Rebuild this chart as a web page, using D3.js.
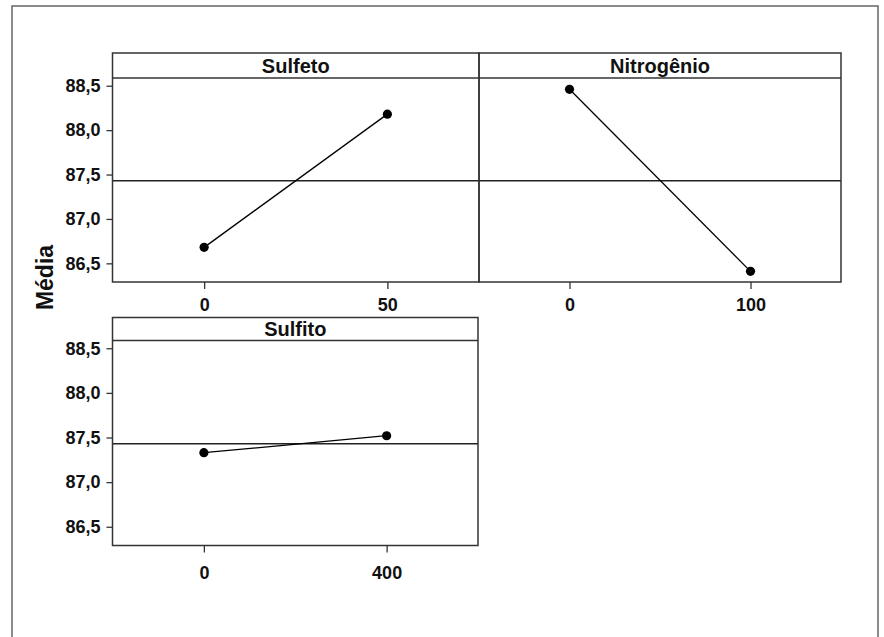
<!DOCTYPE html>
<html>
<head>
<meta charset="utf-8">
<script src="https://cdn.jsdelivr.net/npm/d3@7"></script>
<style>
  body { margin: 0; background: #fff; }
  text { font-family: "Liberation Sans", Arial, sans-serif; font-weight: bold; fill: #111; }
</style>
</head>
<body>
<div id="chart"></div>
<script>
// Data
const factors = ["Sulfeto", "Nitrogênio", "Sulfito"];
const levels = [["0", "50"], ["0", "100"], ["0", "400"]];
const means = [[86.68, 88.18], [88.46, 86.41], [87.33, 87.52]];
const grandMean = 87.43;
const yTicks = [86.5, 87.0, 87.5, 88.0, 88.5];

const width = 884, height = 637;

// panel boxes: x0, x1, strip top, plot top (strip bottom), plot bottom, x-label padding, show y axis
const panels = [
    { x0: 112.5, x1: 479, top: 53, plotTop: 78, bottom: 282, pad: 9, yAxis: true },
    { x0: 479, x1: 841, top: 53, plotTop: 78, bottom: 282, pad: 9, yAxis: false },
    { x0: 112.5, x1: 478, top: 317.5, plotTop: 340.5, bottom: 545.5, pad: 14, yAxis: true }
];
const yDomain = [86.29, 88.587];

const locale = d3.formatLocale({ decimal: ",", thousands: ".", grouping: [3], currency: ["R$", ""] });
const fmt = locale.format(".1f");

const svg = d3.select("#chart")
    .append("svg")
    .attr("width", width)
    .attr("height", height);

// outer frame (runs off the bottom of the picture)
svg.append("rect")
    .attr("x", 12).attr("y", 6)
    .attr("width", 866).attr("height", 700)
    .attr("fill", "none")
    .attr("stroke", "#666")
    .attr("stroke-width", 1.5);

factors.forEach((name, i) => {
    const p = panels[i];
    const g = svg.append("g");

    const x = d3.scalePoint()
        .domain(levels[i])
        .range([p.x0, p.x1])
        .padding(0.5);

    const y = d3.scaleLinear()
        .domain(yDomain)
        .range([p.bottom, p.plotTop]);

    // Y axis (left column only)
    if (p.yAxis) {
        g.append("g")
            .attr("transform", `translate(${p.x0},0)`)
            .call(d3.axisLeft(y).tickValues(yTicks).tickFormat(fmt).tickSize(6).tickPadding(6))
            .call((a) => a.select(".domain").remove())
            .call((a) => a.selectAll("line").attr("stroke", "#333").attr("stroke-width", 1.3))
            .call((a) => a.selectAll("text").attr("font-size", 18).attr("fill", "#111")
                .style("font-family", "'Liberation Sans', Arial, sans-serif").style("font-weight", "bold"));
    }

    // X axis
    g.append("g")
        .attr("transform", `translate(0,${p.bottom})`)
        .call(d3.axisBottom(x).tickSize(7).tickPadding(p.pad))
        .call((a) => a.select(".domain").remove())
        .call((a) => a.selectAll("line").attr("stroke", "#333").attr("stroke-width", 1.3))
        .call((a) => a.selectAll("text").attr("font-size", 18).attr("fill", "#111")
            .style("font-family", "'Liberation Sans', Arial, sans-serif").style("font-weight", "bold"));

    // grand mean reference line
    g.append("line")
        .attr("x1", p.x0).attr("x2", p.x1)
        .attr("y1", y(grandMean)).attr("y2", y(grandMean))
        .attr("stroke", "#222")
        .attr("stroke-width", 1.4);

    // means line + points
    const pts = levels[i].map((lv, j) => ({ lv, v: means[i][j] }));
    g.append("path")
        .datum(pts)
        .attr("fill", "none")
        .attr("stroke", "#000")
        .attr("stroke-width", 1.3)
        .attr("d", d3.line().x((d) => x(d.lv)).y((d) => y(d.v)));

    g.selectAll(".pt")
        .data(pts)
        .join("circle")
        .attr("class", "pt")
        .attr("cx", (d) => x(d.lv))
        .attr("cy", (d) => y(d.v))
        .attr("r", 4.6)
        .attr("fill", "#000");

    // strip + panel border
    g.append("rect")
        .attr("x", p.x0).attr("y", p.top)
        .attr("width", p.x1 - p.x0).attr("height", p.bottom - p.top)
        .attr("fill", "none")
        .attr("stroke", "#333")
        .attr("stroke-width", 1.5);

    g.append("line")
        .attr("x1", p.x0).attr("x2", p.x1)
        .attr("y1", p.plotTop).attr("y2", p.plotTop)
        .attr("stroke", "#333")
        .attr("stroke-width", 1.5);

    g.append("text")
        .attr("x", (p.x0 + p.x1) / 2)
        .attr("y", p.plotTop - 5)
        .attr("text-anchor", "middle")
        .attr("font-size", 20)
        .text(name);
});

// Y axis title
svg.append("text")
    .attr("transform", "translate(53,277.5) rotate(-90)")
    .attr("text-anchor", "middle")
    .attr("font-size", 23)
    .text("Média");
</script>
</body>
</html>
